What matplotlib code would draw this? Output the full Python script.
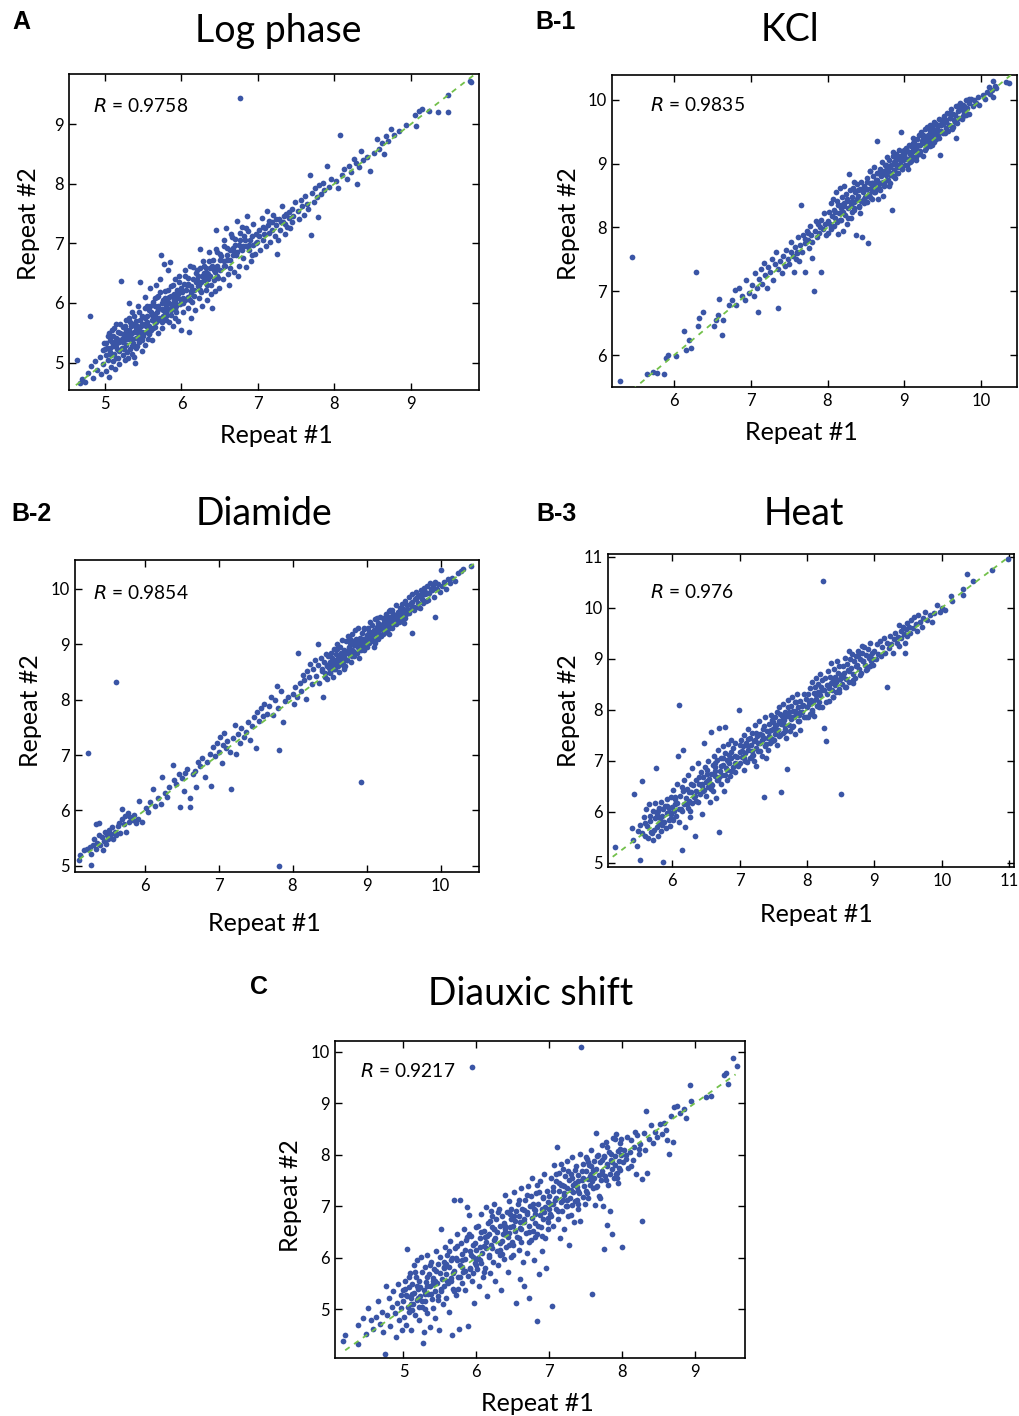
import numpy as np
import matplotlib.pyplot as plt

plt.rcParams['font.family'] = ['Lato', 'DejaVu Sans']

# ---------------- data ----------------
log_pts = [
    (4.63,5.04),(4.68,4.66),(4.70,4.72),(4.74,4.68),(4.78,4.83),(4.80,5.78),(4.82,4.95),(4.85,4.74),(4.87,5.02),(4.90,4.88),
    (4.93,5.10),(4.95,4.80),(4.97,5.21),(4.98,4.97),(4.99,5.32),
    (5.01,5.12),(5.02,4.86),(5.03,5.25),(5.04,5.05),(5.05,4.75),(5.06,5.38),(5.07,5.18),(5.08,4.93),(5.09,5.55),(5.10,5.02),
    (5.11,5.28),(5.12,5.15),(5.13,4.90),(5.14,5.42),(5.15,5.65),(5.16,5.22),(5.17,5.08),(5.18,5.35),(5.19,4.98),(5.20,5.50),
    (5.21,6.36),(5.22,5.25),(5.23,5.12),(5.24,5.60),(5.25,5.38),(5.26,5.05),(5.27,5.72),(5.28,5.30),(5.29,5.18),(5.30,5.48),
    (5.31,6.00),(5.32,5.40),(5.33,5.22),(5.34,5.62),(5.35,5.15),(5.36,5.85),(5.37,5.33),(5.38,5.52),(5.39,5.00),(5.40,5.70),
    (5.41,5.42),(5.42,5.28),(5.43,5.95),(5.44,5.55),(5.45,5.35),(5.46,6.35),(5.47,5.62),(5.48,5.20),(5.49,5.78),(5.50,5.45),
    (5.38,5.10),(5.27,5.45),(5.15,5.30),(5.33,5.68),(5.45,5.48),(5.06,5.24),(5.22,5.40),(5.41,5.58),(5.30,5.08),(5.48,5.38),
    (5.51,5.65),(5.52,5.30),(5.53,6.10),(5.54,5.52),(5.55,5.78),(5.56,5.40),(5.57,5.88),(5.58,5.62),(5.59,6.25),(5.60,5.55),
    (5.61,5.80),(5.62,5.38),(5.63,6.02),(5.64,5.70),(5.65,5.95),(5.66,5.60),(5.67,6.30),(5.68,5.85),(5.69,5.50),(5.70,6.12),
    (5.71,5.75),(5.72,6.40),(5.73,6.81),(5.74,5.90),(5.75,5.68),(5.76,6.05),(5.77,6.65),(5.78,5.82),(5.79,6.20),(5.80,5.72),
    (5.81,6.00),(5.82,6.55),(5.83,5.90),(5.84,6.10),(5.85,6.68),(5.86,5.80),(5.87,6.28),(5.88,5.95),(5.89,5.62),(5.90,6.15),
    (5.91,6.02),(5.92,6.40),(5.93,5.85),(5.94,6.22),(5.95,6.08),(5.96,5.70),(5.97,6.35),(5.98,5.98),(5.99,5.55),(5.55,5.95),
    (5.62,5.72),(5.68,6.10),(5.74,5.58),(5.80,5.95),(5.86,6.12),(5.92,5.75),(5.58,5.48),(5.66,5.78),(5.76,5.88),(5.84,5.68),
    (6.01,6.18),(6.02,5.85),(6.04,6.45),(6.05,6.05),(6.07,6.30),(6.08,5.92),(6.10,5.51),(6.11,6.62),(6.12,6.20),(6.14,6.02),
    (6.15,6.40),(6.17,6.12),(6.18,5.88),(6.20,6.55),(6.21,6.28),(6.23,6.08),(6.24,6.90),(6.26,6.35),(6.27,5.95),(6.29,6.50),
    (6.30,6.62),(6.32,6.22),(6.33,6.05),(6.35,6.48),(6.36,6.70),(6.38,6.30),(6.39,6.15),(6.40,5.91),(6.42,6.55),(6.43,6.38),
    (6.45,7.22),(6.46,6.62),(6.48,6.42),(6.49,6.25),(6.03,6.32),(6.13,5.75),(6.19,6.35),(6.25,6.18),(6.31,6.42),(6.37,6.58),
    (6.44,6.20),(6.47,6.85),(6.09,6.10),(6.22,6.45),(6.34,6.30),
    (6.51,6.55),(6.52,6.78),(6.54,6.40),(6.55,6.95),(6.57,6.62),(6.58,7.25),(6.60,6.72),(6.61,6.48),(6.63,6.88),(6.64,6.58),
    (6.66,7.10),(6.67,6.80),(6.69,6.52),(6.70,6.98),(6.72,7.38),(6.73,6.85),(6.75,6.62),(6.76,7.05),(6.78,6.90),(6.79,7.28),
    (6.81,6.75),(6.82,7.12),(6.84,6.95),(6.85,6.60),(6.87,7.20),(6.88,6.88),(6.90,7.05),(6.91,6.70),(6.93,7.32),(6.94,6.98),
    (6.96,6.82),(6.97,7.15),(6.99,7.02),(6.56,6.70),(6.68,6.92),(6.74,6.45),(6.80,6.95),(6.86,7.45),(6.92,6.80),(6.62,6.30),
    (7.01,7.12),(7.03,6.88),(7.05,7.42),(7.07,7.05),(7.09,7.25),(7.11,6.95),(7.12,7.55),(7.14,7.18),(7.16,7.02),(7.18,7.35),
    (7.20,7.48),(7.22,7.12),(7.24,7.30),(7.25,6.82),(7.27,7.40),(7.29,7.22),(7.31,7.62),(7.33,7.35),(7.35,7.15),(7.37,7.50),
    (7.38,7.28),(7.40,7.42),(7.42,7.25),(7.44,7.58),(7.46,7.45),(7.48,7.70),(7.06,7.28),(7.15,7.38),(7.26,7.05),(7.36,7.32),
    (7.52,7.55),(7.54,7.40),(7.56,7.72),(7.58,7.62),(7.60,7.48),(7.62,7.80),(7.64,7.66),(7.66,7.58),(7.68,8.15),(7.69,7.14),
    (7.71,7.85),(7.73,7.70),(7.75,7.92),(7.77,7.78),(7.78,7.44),(7.80,7.98),(7.82,7.82),(7.85,8.02),(7.87,7.90),(7.90,8.30),
    (7.93,7.95),(7.96,8.08),
    (8.02,8.05),(8.05,7.92),(8.07,8.82),(8.10,8.15),(8.13,8.25),(8.16,8.08),(8.19,8.30),(8.22,8.20),(8.25,8.42),(8.28,8.35),
    (8.29,7.99),(8.32,8.28),(8.35,8.55),(8.38,8.40),(8.42,8.45),(8.46,8.22),
    (8.52,8.52),(8.55,8.75),(8.58,8.58),(8.62,8.68),(8.65,8.50),(8.68,8.80),(8.70,8.72),(8.74,8.92),(8.78,8.82),(8.85,8.88),
    (8.94,8.98),(9.05,9.15),(9.06,8.96),(9.10,9.22),(9.14,9.25),(9.23,9.22),(9.36,9.20),(9.48,9.48),(9.49,9.20),(9.77,9.72),
    (9.79,9.70),(6.76,9.43),
    (5.02,5.32),(5.04,5.45),(5.08,5.12),(5.11,5.45),(5.13,5.35),(5.17,5.52),(5.19,5.20),(5.23,5.48),(5.26,5.62),(5.29,5.40),
    (5.32,5.55),(5.35,5.40),(5.37,5.65),(5.40,5.25),(5.43,5.50),(5.46,5.72),(5.49,5.52),(5.52,5.75),(5.54,5.62),(5.57,5.50),
    (5.60,5.85),(5.63,5.58),(5.65,5.82),(5.67,5.68),(5.70,5.90),(5.73,5.75),(5.75,6.00),(5.78,5.90),(5.81,5.80),(5.83,6.02),
    (5.87,5.88),(5.90,6.05),(5.93,5.95),(5.96,6.15),(5.99,6.05),(6.02,6.08),(6.06,6.22),(6.09,6.32),(6.13,6.28),(6.16,6.22),
    (6.20,6.38),(6.23,6.30),(6.27,6.45),(6.30,6.38),(6.33,6.50),(6.37,6.45),(6.40,6.62),(6.44,6.52),(6.47,6.58),(6.50,6.72),
    (6.55,6.62),(6.59,6.80),(6.63,6.72),(6.67,6.88),(6.71,6.80),(6.75,6.98),(6.79,6.88),(6.83,7.05),(6.88,6.98),(6.92,7.12),
    (6.97,7.00),(7.02,7.22),(7.08,7.15),(7.13,7.30),(7.19,7.22),(7.23,7.40),(7.30,7.35),(7.34,7.45),(7.41,7.52),(7.45,7.35),
    (5.00,5.22),(5.05,5.50),(5.09,5.35),(5.12,5.58),(5.16,5.40),(5.20,5.65),(5.24,5.35),(5.27,5.55),(5.31,5.75),(5.34,5.48),
    (5.38,5.78),(5.42,5.62),(5.45,5.85),(5.49,5.65),(5.52,5.92),(5.55,5.68),(5.59,5.95),(5.62,5.82),(5.66,6.08),(5.69,5.95),
    (5.72,6.18),(5.76,5.78),(5.79,6.08),(5.82,6.22),(5.86,5.98),(5.89,6.30),(5.93,6.12),(5.97,6.45),(6.00,6.25),(6.04,6.55),
    (6.08,6.42),(6.11,6.05),(6.15,6.60),(6.19,6.50),(6.24,6.58),(6.28,6.70),(6.32,6.58),(6.36,6.85),(6.41,6.72),(6.45,6.90),
    (6.50,6.82),(6.55,7.05),(6.60,6.92),(6.65,7.15),(6.70,7.08),(6.77,7.18),(6.84,7.25),(5.14,5.08),(5.25,5.22),(5.36,5.28),
    (5.47,5.42),(5.58,5.55),(5.69,5.72),(5.80,5.85),(5.91,5.90),(6.02,6.00),(6.13,6.15),(6.24,6.22),(6.35,6.40),(6.46,6.45),
]

kcl_pts = [
    (5.29,5.60),(5.45,7.53),(5.65,5.70),(5.72,5.74),(5.78,5.72),(5.87,5.70),(5.89,5.95),(5.92,6.00),(6.03,5.98),(6.13,6.37),
    (6.16,6.08),(6.20,6.24),(6.22,6.11),(6.29,7.31),(6.31,6.45),(6.32,6.58),(6.37,6.67),(6.52,6.45),(6.55,6.55),(6.57,6.63),
    (6.59,6.88),(6.63,6.32),(6.64,6.55),(6.72,6.78),(6.75,6.86),(6.79,7.02),(6.81,6.79),(6.85,7.05),(6.88,6.92),(6.92,6.86),
    (6.94,7.18),(6.98,6.97),
    (7.02,7.10),(7.04,6.92),(7.06,7.28),(7.08,7.05),(7.09,6.68),(7.11,7.20),(7.13,7.35),(7.15,7.12),(7.17,7.45),(7.19,7.25),
    (7.21,7.05),(7.23,7.38),(7.25,7.30),(7.27,7.50),(7.29,7.18),(7.31,7.42),(7.33,7.62),(7.35,7.35),(7.36,6.74),(7.38,7.48),
    (7.40,7.28),(7.42,7.55),(7.44,7.40),(7.46,7.65),(7.48,7.50),
    (7.50,7.42),(7.52,7.62),(7.53,7.78),(7.55,7.55),(7.56,7.30),(7.58,7.70),(7.60,7.60),(7.61,7.85),(7.63,7.48),(7.64,7.72),
    (7.66,8.35),(7.67,7.62),(7.68,7.88),(7.70,7.75),(7.71,7.30),(7.73,7.95),(7.74,7.80),(7.76,7.68),(7.77,8.02),(7.79,7.88),
    (7.80,7.52),(7.82,7.01),(7.83,7.95),(7.85,8.10),(7.86,7.85),(7.88,8.05),(7.89,7.92),(7.91,7.30),(7.92,8.12),(7.94,7.98),
    (7.95,8.22),(7.97,8.05),(7.98,7.88),(7.59,7.50),(7.75,7.92),
    (8.00,8.10),(8.01,7.92),(8.02,8.25),(8.03,8.05),(8.04,8.38),(8.05,7.98),(8.06,8.18),(8.07,8.45),(8.08,8.02),(8.09,8.28),
    (8.10,8.15),(8.11,8.55),(8.12,8.08),(8.13,8.35),(8.14,7.90),(8.15,8.22),(8.16,8.62),(8.17,8.30),(8.18,8.12),(8.19,8.48),
    (8.20,8.25),(8.21,8.65),(8.22,8.38),(8.23,8.20),(8.24,8.52),(8.25,8.05),(8.26,8.42),(8.27,8.30),(8.28,8.84),(8.29,8.58),
    (8.30,8.35),(8.31,8.15),(8.32,8.48),(8.33,8.62),(8.34,8.40),(8.35,8.28),(8.36,8.55),(8.37,7.88),(8.38,8.45),(8.39,8.68),
    (8.40,8.50),(8.41,8.32),(8.42,8.60),(8.43,8.42),(8.44,8.72),(8.45,7.85),(8.46,8.55),(8.47,8.38),(8.48,8.65),(8.49,8.48),
    (8.12,8.42),(8.27,8.15),(8.35,8.72),(8.42,8.22),(8.20,7.95),
    (8.50,8.60),(8.51,8.40),(8.52,8.78),(8.53,7.76),(8.54,8.52),(8.55,8.70),(8.56,8.88),(8.57,8.62),(8.58,8.45),(8.59,8.80),
    (8.60,8.68),(8.61,8.95),(8.62,8.55),(8.63,8.75),(8.64,8.62),(8.65,9.35),(8.66,8.85),(8.67,8.70),(8.68,8.92),(8.69,8.58),
    (8.70,8.80),(8.71,9.02),(8.72,8.72),(8.73,8.88),(8.74,8.65),(8.75,8.98),(8.76,8.82),(8.77,9.10),(8.78,8.75),(8.79,8.92),
    (8.80,9.05),(8.81,8.85),(8.82,8.70),(8.83,8.98),(8.84,8.27),(8.85,9.12),(8.86,8.90),(8.87,9.02),(8.88,8.78),(8.89,9.15),
    (8.90,8.95),(8.91,9.08),(8.92,8.85),(8.93,9.22),(8.94,9.00),(8.95,9.12),(8.96,9.50),(8.97,8.92),(8.98,9.18),(8.99,9.05),
    (8.58,8.70),(8.72,8.50),(8.80,8.65),(8.88,9.00),(8.66,8.45),
    (9.00,9.12),(9.01,8.98),(9.02,9.25),(9.03,9.08),(9.04,9.20),(9.05,8.92),(9.06,9.30),(9.07,9.15),(9.08,9.02),(9.09,9.28),
    (9.10,9.18),(9.11,9.40),(9.12,9.10),(9.13,9.32),(9.14,9.22),(9.15,9.05),(9.16,9.38),(9.17,9.28),(9.18,9.15),(9.19,9.45),
    (9.20,9.30),(9.21,9.20),(9.22,9.50),(9.23,9.35),(9.24,9.12),(9.25,9.42),(9.26,9.32),(9.27,9.55),(9.28,9.40),(9.29,9.25),
    (9.30,9.58),(9.31,9.45),(9.32,9.35),(9.33,9.52),(9.34,9.60),(9.35,9.42),(9.36,9.30),(9.37,9.55),(9.38,9.48),(9.39,9.65),
    (9.40,9.50),(9.41,9.38),(9.42,9.62),(9.43,9.55),(9.44,9.45),(9.45,9.70),(9.46,9.13),(9.47,9.60),(9.48,9.52),(9.49,9.68),
    (9.50,9.62),(9.52,9.75),(9.53,9.48),(9.55,9.68),(9.56,9.80),(9.58,9.60),(9.59,9.72),(9.61,9.85),(9.62,9.55),(9.64,9.78),
    (9.65,9.68),(9.67,9.90),(9.68,9.40),(9.70,9.82),(9.71,9.72),(9.73,9.95),(9.74,9.85),(9.76,9.75),(9.77,9.92),(9.79,9.82),
    (9.80,10.00),(9.82,9.88),(9.84,9.78),(9.85,9.95),(9.87,10.02),(9.89,9.90),(9.91,10.00),(9.94,9.95),(9.96,10.05),(9.98,9.92),
    (10.03,10.08),(10.05,10.02),(10.08,10.12),(10.10,10.20),(10.12,10.10),(10.14,10.15),(10.16,10.05),(10.18,10.22),
    (10.20,10.18),(10.16,10.30),(10.33,10.28),(10.37,10.26),
    (8.30,8.40),(8.34,8.30),(8.38,8.45),(8.41,8.33),(8.45,8.58),(8.48,8.44),(8.52,8.60),(8.55,8.48),(8.58,8.70),(8.61,8.56),
    (8.64,8.75),(8.67,8.62),(8.70,8.84),(8.73,8.68),(8.76,8.90),(8.79,8.74),(8.82,8.95),(8.85,8.80),(8.88,9.02),(8.91,8.86),
    (8.94,9.08),(8.97,8.92),(9.00,9.14),(9.03,8.98),(9.06,9.18),(9.09,9.04),(9.12,9.25),(9.15,9.10),(9.18,9.30),(9.21,9.15),
    (9.24,9.38),(9.27,9.22),(9.30,9.42),(9.33,9.28),(9.36,9.48),(9.39,9.34),(9.42,9.52),(9.45,9.40),(9.48,9.60),(9.51,9.48),
    (9.54,9.66),(9.57,9.52),(9.60,9.72),(9.63,9.58),(9.66,9.76),(9.69,9.64),(9.72,9.84),(9.75,9.70),(9.78,9.90),(9.81,9.76),
    (8.22,8.34),(8.16,8.12),(8.10,8.24),(8.04,8.00),(7.90,8.00),(7.80,7.78),(7.70,7.82),(7.60,7.62),
    (8.40,8.58),(8.46,8.42),(8.52,8.72),(8.58,8.58),(8.64,8.86),(8.70,8.70),(8.76,8.98),(8.82,8.82),(8.88,9.10),(8.94,8.95),
    (9.00,9.22),(9.06,9.08),(9.12,9.32),(9.18,9.20),(9.24,9.45),(9.30,9.32),(9.36,9.58),(9.42,9.45),(9.48,9.68),(9.54,9.56),
    (9.60,9.80),(9.66,9.66),(9.72,9.92),(9.78,9.80),(9.84,10.02),(8.25,8.45),(8.18,8.35),(8.32,8.25),(8.55,8.88),(8.85,9.18),
]

diamide_pts = [
    (5.12,5.10),(5.13,5.20),(5.18,5.28),(5.22,5.30),(5.24,7.04),(5.26,5.35),(5.27,5.01),(5.28,5.22),(5.30,5.38),(5.32,5.48),
    (5.34,5.30),(5.35,5.75),(5.36,5.42),(5.38,5.55),(5.39,5.78),(5.40,5.38),(5.42,5.52),(5.44,5.28),(5.45,5.45),(5.47,5.62),
    (5.48,5.40),(5.49,5.55),
    (5.50,5.48),(5.52,5.65),(5.53,5.52),(5.55,5.58),(5.56,5.70),(5.58,5.48),(5.60,5.62),(5.61,8.32),(5.62,5.55),(5.64,5.72),
    (5.65,5.78),(5.67,5.60),(5.69,5.85),(5.70,6.02),(5.72,5.75),(5.74,5.90),(5.75,5.62),(5.77,5.95),(5.79,5.80),(5.81,5.88),
    (5.84,5.82),(5.86,5.92),(5.88,5.78),(5.91,5.85),(5.93,6.18),(5.96,5.80),
    (6.02,6.05),(6.05,5.98),(6.08,6.15),(6.12,6.38),(6.14,6.08),(6.18,6.22),(6.22,6.12),(6.24,6.60),(6.27,6.32),(6.30,6.25),
    (6.33,6.42),(6.38,6.82),(6.40,6.55),(6.43,6.48),(6.46,6.65),(6.48,6.07),(6.50,6.58),(6.53,6.35),(6.55,6.68),(6.58,6.75),
    (6.61,6.22),(6.62,6.07),(6.65,6.65),(6.68,6.72),(6.70,6.42),(6.72,6.88),(6.75,6.80),(6.78,6.95),(6.82,6.60),(6.85,6.88),
    (6.88,7.02),(6.90,6.45),(6.92,7.15),(6.95,6.98),(6.98,7.22),
    (7.00,7.05),(7.02,7.32),(7.04,6.85),(7.06,7.18),(7.08,7.40),(7.10,7.12),(7.12,7.25),(7.15,7.05),(7.17,6.39),(7.20,7.30),
    (7.22,7.55),(7.24,7.02),(7.26,7.38),(7.29,7.22),(7.31,7.48),(7.34,7.32),(7.37,7.42),(7.40,7.60),(7.43,7.28),(7.45,7.52),
    (7.48,7.68),(7.50,7.12),(7.52,7.78),(7.55,7.62),(7.58,7.85),(7.60,7.70),(7.62,7.92),(7.65,7.75),(7.68,7.88),(7.71,8.05),
    (7.73,7.72),(7.76,8.00),(7.79,8.25),(7.80,7.85),(7.82,7.09),(7.82,4.99),(7.84,8.15),(7.87,7.60),(7.90,7.98),(7.94,8.05),
    (8.00,8.10),(8.02,7.92),(8.04,8.22),(8.06,8.05),(8.08,8.84),(8.10,8.30),(8.12,8.15),(8.14,8.45),(8.16,8.35),(8.18,8.02),
    (8.20,8.52),(8.22,8.40),(8.24,8.65),(8.26,8.28),(8.28,8.55),(8.30,8.72),(8.32,8.42),(8.34,8.62),(8.35,9.00),(8.36,8.30),
    (8.38,8.75),(8.40,8.55),(8.41,8.05),(8.42,8.68),(8.44,8.48),(8.45,8.82),(8.46,8.62),(8.47,8.38),(8.48,8.78),(8.49,8.58),
    (8.50,8.68),(8.51,8.50),(8.52,8.85),(8.53,8.62),(8.54,8.75),(8.55,8.40),(8.56,8.92),(8.57,8.70),(8.58,8.55),(8.59,8.82),
    (8.60,9.00),(8.61,8.65),(8.62,8.78),(8.63,8.50),(8.64,8.95),(8.65,8.72),(8.66,8.85),(8.67,9.08),(8.68,8.62),(8.69,8.90),
    (8.70,8.78),(8.71,8.60),(8.72,9.05),(8.73,8.88),(8.74,8.72),(8.75,9.15),(8.76,8.95),(8.77,8.80),(8.78,9.02),(8.79,8.68),
    (8.80,9.18),(8.81,8.90),(8.82,9.05),(8.83,8.78),(8.84,9.25),(8.85,8.98),(8.86,9.10),(8.87,8.85),(8.88,9.02),(8.89,9.30),
    (8.90,8.92),(8.91,9.12),(8.92,6.51),(8.93,8.98),(8.94,9.20),(8.95,9.05),(8.96,8.90),(8.97,9.28),(8.98,9.10),(8.99,9.00),
    (9.00,9.15),(9.01,8.95),(9.02,9.30),(9.03,9.08),(9.04,9.22),(9.05,9.40),(9.06,9.05),(9.07,9.18),(9.08,9.35),(9.09,9.12),
    (9.10,9.25),(9.11,9.02),(9.12,9.45),(9.13,9.20),(9.14,9.32),(9.15,9.10),(9.16,9.38),(9.17,9.25),(9.18,9.50),(9.19,9.15),
    (9.20,9.35),(9.21,9.28),(9.22,9.48),(9.23,9.20),(9.24,9.40),(9.25,9.32),(9.26,9.55),(9.27,9.25),(9.28,9.45),(9.29,9.38),
    (9.30,9.60),(9.31,9.30),(9.32,9.50),(9.33,9.42),(9.34,9.62),(9.35,9.35),(9.36,9.55),(9.38,9.45),(9.40,9.70),(9.42,9.52),
    (9.44,9.40),(9.45,9.65),(9.46,9.58),(9.48,9.72),(9.49,9.48),
    (9.50,9.62),(9.52,9.78),(9.54,9.55),(9.55,9.70),(9.57,9.85),(9.58,9.62),(9.60,9.75),(9.61,9.21),(9.62,9.90),(9.64,9.68),
    (9.66,9.82),(9.67,9.95),(9.69,9.75),(9.71,9.88),(9.72,9.65),(9.74,9.98),(9.75,9.82),(9.77,10.02),(9.79,9.90),(9.80,9.78),
    (9.82,10.05),(9.84,9.92),(9.86,10.10),(9.88,9.98),(9.90,10.05),(9.92,9.49),(9.93,10.12),(9.95,10.00),(9.97,10.08),(9.99,9.95),
    (10.00,10.34),(10.02,10.05),(10.05,10.12),(10.08,10.00),(10.10,10.18),(10.13,10.10),(10.16,10.20),(10.20,10.15),
    (10.24,10.28),(10.28,10.32),(10.30,10.35),(10.41,10.42),
    (8.40,8.52),(8.44,8.40),(8.47,8.60),(8.50,8.48),(8.53,8.68),(8.56,8.55),(8.59,8.72),(8.62,8.60),(8.65,8.80),(8.68,8.65),
    (8.71,8.86),(8.74,8.72),(8.77,8.92),(8.80,8.78),(8.83,8.98),(8.86,8.84),(8.89,9.04),(8.92,8.90),(8.95,9.10),(8.98,8.96),
    (9.01,9.16),(9.04,9.02),(9.07,9.22),(9.10,9.08),(9.13,9.28),(9.16,9.12),(9.19,9.34),(9.22,9.18),(9.25,9.40),(9.28,9.24),
    (9.31,9.46),(9.34,9.30),(9.37,9.52),(9.40,9.36),(9.43,9.58),(9.46,9.42),(9.49,9.64),(9.52,9.48),(9.55,9.70),(9.58,9.56),
    (9.61,9.76),(9.64,9.62),(9.67,9.82),(9.70,9.68),(9.73,9.88),(9.76,9.74),(9.79,9.94),(9.83,9.80),(9.87,10.00),(9.91,9.86),
    (8.55,8.62),(8.62,8.78),(8.68,8.70),(8.75,8.85),(8.82,8.88),(8.88,8.95),(8.95,9.02),(9.02,9.10),(9.08,9.15),(9.15,9.22),
    (9.22,9.30),(9.28,9.35),(9.35,9.45),(9.42,9.50),(9.48,9.55),(9.55,9.62),(9.62,9.68),(9.68,9.85),(9.75,9.88),(9.82,9.92),
    (8.60,8.92),(8.78,9.10),(8.96,9.30),(9.14,9.48),(9.32,9.62),(8.70,8.55),(8.90,8.75),(9.10,8.95),(9.30,9.18),(9.50,9.38),
]

heat_pts = [
    (5.15,5.31),(5.40,5.68),(5.42,5.45),(5.43,6.35),(5.48,5.33),(5.50,5.62),(5.52,5.06),(5.53,5.75),(5.55,5.58),(5.56,6.61),
    (5.58,5.90),(5.60,5.52),(5.62,6.05),(5.63,5.72),(5.65,5.48),(5.66,6.15),(5.68,5.82),(5.69,5.60),(5.71,6.02),(5.72,5.45),
    (5.74,5.88),(5.75,6.18),(5.76,6.86),(5.77,5.70),(5.78,5.95),(5.79,5.52),(5.80,6.08),(5.81,5.78),(5.83,6.20),(5.84,5.62),
    (5.85,5.92),(5.86,5.02),(5.87,6.05),(5.88,5.80),(5.90,6.12),(5.91,5.68),(5.92,5.98),(5.93,6.25),(5.95,5.85),(5.96,6.08),
    (5.97,5.72),(5.98,6.30),(5.99,5.95),(5.70,5.58),(5.82,5.88),
    (6.00,6.10),(6.01,5.85),(6.02,6.42),(6.03,6.02),(6.05,6.25),(6.06,5.92),(6.07,6.55),(6.08,6.18),(6.09,7.10),(6.10,8.10),
    (6.11,5.80),(6.12,6.32),(6.13,6.05),(6.14,5.26),(6.15,6.48),(6.16,7.21),(6.17,6.15),(6.18,6.62),(6.19,5.70),(6.20,6.28),
    (6.22,6.45),(6.23,6.08),(6.24,6.72),(6.25,6.22),(6.27,5.90),(6.28,6.38),(6.29,6.85),(6.30,6.18),(6.31,6.52),(6.33,6.30),
    (6.34,5.52),(6.35,6.62),(6.36,6.40),(6.38,6.95),(6.39,6.20),(6.40,6.55),(6.42,6.35),(6.43,6.78),(6.44,5.95),(6.45,6.50),
    (6.46,6.68),(6.47,7.34),(6.48,6.42),(6.49,6.88),(6.26,6.02),
    (6.50,6.58),(6.51,6.32),(6.52,6.82),(6.53,6.48),(6.54,7.00),(6.55,6.65),(6.56,6.20),(6.57,7.56),(6.58,6.75),(6.59,6.52),
    (6.60,6.92),(6.61,6.40),(6.62,7.10),(6.63,6.70),(6.64,6.88),(6.65,6.28),(6.66,7.02),(6.67,6.62),(6.68,7.22),(6.69,5.60),
    (6.70,7.65),(6.71,6.80),(6.72,6.55),(6.73,7.05),(6.74,6.72),(6.75,7.28),(6.76,6.92),(6.77,6.40),(6.78,7.15),(6.79,7.67),
    (6.80,6.85),(6.81,7.02),(6.82,6.62),(6.83,7.32),(6.84,6.95),(6.85,7.12),(6.86,6.70),(6.87,7.40),(6.88,7.05),(6.90,6.88),
    (6.91,7.25),(6.93,6.78),(6.94,7.35),(6.96,7.08),(6.98,6.92),
    (6.99,8.00),(7.00,7.18),(7.01,6.95),(7.02,7.40),(7.03,7.08),(7.05,7.28),(7.06,6.82),(7.07,7.50),(7.08,7.15),(7.10,7.35),
    (7.11,6.98),(7.12,7.62),(7.13,7.22),(7.15,7.45),(7.16,7.05),(7.17,7.30),(7.19,7.55),(7.20,7.12),(7.21,7.38),(7.23,7.70),
    (7.24,7.25),(7.25,6.90),(7.26,7.48),(7.28,7.35),(7.29,7.78),(7.30,7.20),(7.31,7.52),(7.33,7.40),(7.34,7.10),(7.35,7.62),
    (7.36,6.30),(7.37,7.45),(7.38,7.85),(7.39,7.32),(7.41,7.58),(7.42,7.22),(7.43,7.72),(7.44,7.48),(7.45,7.35),(7.46,7.90),
    (7.47,7.60),(7.48,7.42),(7.49,7.75),(7.22,7.00),(7.40,7.05),
    (7.50,7.62),(7.51,7.40),(7.52,7.85),(7.53,7.52),(7.54,7.70),(7.55,7.30),(7.56,7.95),(7.57,7.60),(7.58,7.78),(7.59,8.05),
    (7.60,7.50),(7.61,6.38),(7.62,7.72),(7.63,7.88),(7.64,7.55),(7.65,8.12),(7.66,7.80),(7.67,7.62),(7.68,7.95),(7.69,7.45),
    (7.70,6.84),(7.71,7.88),(7.72,8.20),(7.73,7.70),(7.74,7.95),(7.75,7.58),(7.76,8.08),(7.77,7.82),(7.78,8.25),(7.79,7.68),
    (7.80,7.98),(7.81,7.85),(7.82,8.15),(7.83,7.52),(7.84,7.92),(7.85,8.30),(7.86,7.78),(7.87,8.05),(7.88,7.90),(7.89,7.60),
    (7.90,8.18),(7.92,7.95),(7.94,8.10),(7.96,7.85),(7.98,8.22),
    (8.00,8.05),(8.01,7.85),(8.02,8.30),(8.03,8.12),(8.04,7.92),(8.05,8.42),(8.06,8.20),(8.07,8.00),(8.08,8.55),(8.09,8.15),
    (8.10,8.32),(8.11,7.88),(8.12,8.45),(8.13,8.22),(8.14,8.62),(8.15,8.08),(8.16,8.35),(8.17,8.50),(8.18,8.15),(8.19,8.70),
    (8.20,8.28),(8.21,8.45),(8.22,8.05),(8.23,8.58),(8.24,10.53),(8.25,8.38),(8.26,7.64),(8.27,8.62),(8.28,7.39),(8.29,8.48),
    (8.30,8.30),(8.31,8.75),(8.32,8.42),(8.33,8.18),(8.34,8.65),(8.35,8.52),(8.36,8.92),(8.37,8.38),(8.38,8.58),(8.39,8.25),
    (8.40,8.80),(8.41,8.48),(8.42,8.65),(8.43,8.35),(8.44,8.95),(8.45,8.58),(8.46,8.72),(8.47,8.40),(8.48,8.85),(8.49,8.60),
    (8.50,8.68),(8.50,6.35),(8.52,8.50),(8.53,8.85),(8.55,8.72),(8.56,9.02),(8.58,8.60),(8.59,8.90),(8.61,8.78),(8.62,8.55),
    (8.64,9.00),(8.65,8.82),(8.67,9.10),(8.68,8.70),(8.70,8.95),(8.71,8.62),(8.73,9.05),(8.74,8.88),(8.76,9.15),(8.77,8.80),
    (8.79,9.00),(8.80,8.72),(8.82,9.12),(8.83,8.95),(8.85,9.22),(8.86,8.88),(8.88,9.08),(8.89,8.80),(8.91,9.18),(8.92,9.02),
    (8.94,9.30),(8.95,8.95),(8.97,9.12),(8.98,9.00),(8.57,8.45),(8.69,8.52),(8.81,9.25),(8.93,8.85),(8.63,9.15),(8.75,9.08),
    (9.00,9.15),(9.02,9.00),(9.04,9.28),(9.06,9.10),(9.08,9.35),(9.10,9.05),(9.12,9.22),(9.14,9.40),(9.16,9.12),(9.18,8.45),
    (9.19,9.30),(9.21,9.20),(9.23,9.45),(9.25,9.28),(9.27,9.12),(9.29,9.38),(9.31,9.50),(9.33,9.30),(9.35,9.42),(9.37,9.25),
    (9.39,9.55),(9.40,9.40),(9.42,9.62),(9.44,9.48),(9.45,9.30),(9.47,9.58),(9.48,9.70),(9.49,9.45),(9.46,9.12),(9.36,9.65),
    (9.51,9.62),(9.53,9.50),(9.55,9.75),(9.57,9.60),(9.59,9.82),(9.61,9.68),(9.63,9.55),(9.65,9.85),(9.67,9.72),(9.70,9.62),
    (9.72,9.80),(9.75,9.92),(9.78,9.75),(9.82,9.85),(9.86,9.72),(9.88,9.90),(9.93,10.05),(9.97,9.92),(10.00,10.00),
    (10.04,9.95),(10.14,10.23),(10.15,10.12),(10.31,10.36),(10.31,10.24),(10.38,10.66),(10.46,10.52),(10.75,10.74),
    (10.98,10.96),
    (6.52,6.60),(6.58,6.45),(6.63,6.80),(6.68,6.62),(6.73,6.90),(6.78,6.72),(6.83,7.00),(6.88,6.80),(6.93,7.10),(6.98,6.90),
    (7.03,7.20),(7.08,7.00),(7.13,7.28),(7.18,7.10),(7.23,7.40),(7.28,7.20),(7.33,7.50),(7.38,7.28),(7.43,7.58),(7.48,7.38),
    (7.53,7.68),(7.58,7.48),(7.63,7.78),(7.68,7.58),(7.73,7.88),(7.78,7.66),(7.83,7.98),(7.88,7.78),(7.93,8.08),(7.98,7.86),
    (8.03,8.18),(8.08,7.96),(8.13,8.28),(8.18,8.06),(8.23,8.38),(8.28,8.15),(8.33,8.48),(8.38,8.25),(8.43,8.55),(8.48,8.35),
    (8.53,8.65),(8.58,8.45),(8.63,8.75),(8.68,8.58),(8.73,8.85),(8.78,8.68),(8.83,8.95),(8.88,8.78),(8.93,9.05),(8.98,8.88),
    (6.05,6.15),(6.15,6.02),(6.25,6.38),(6.35,6.22),(6.45,6.55),(5.85,5.75),(5.95,6.00),
    (5.60,5.78),(5.67,5.92),(5.73,5.65),(5.79,6.02),(5.86,5.80),(5.92,6.12),(5.98,5.88),(6.04,6.30),(6.10,6.05),(6.16,6.40),
    (6.22,6.15),(6.28,6.55),(6.34,6.32),(6.40,6.68),(6.46,6.40),(6.52,6.75),(6.58,6.55),(6.64,6.95),(6.70,6.68),(6.76,7.05),
    (6.82,6.82),(6.88,7.18),(6.94,6.95),(7.00,7.30),(7.06,7.05),(7.12,7.42),(7.18,7.20),(7.24,7.55),(7.30,7.35),(7.36,7.68),
    (7.42,7.45),(7.48,7.80),(7.54,7.58),(7.60,7.92),(7.66,7.70),(7.72,8.05),(7.78,7.85),(7.84,8.15),(7.90,7.95),(7.96,8.30),
]

diauxic_pts = [
    (4.17,4.39),(4.20,4.49),(4.38,4.33),(4.38,4.70),(4.45,4.82),(4.48,4.52),(4.52,5.02),(4.55,4.78),(4.58,4.62),(4.62,4.85),
    (4.65,5.15),(4.68,4.72),(4.70,4.95),(4.72,4.55),(4.75,4.13),(4.76,5.45),(4.78,4.88),(4.80,5.22),(4.82,4.68),(4.84,5.05),
    (4.86,5.35),(4.88,4.92),(4.90,4.45),(4.91,5.12),(4.93,5.48),(4.94,4.78),(4.96,5.28),(4.97,5.02),(4.98,4.60),(4.99,5.38),
    (5.00,5.15),(5.01,4.85),(5.02,5.55),(5.03,5.28),(5.04,4.70),(5.05,6.17),(5.06,5.05),(5.07,5.42),(5.08,4.95),(5.09,5.70),
    (5.10,5.22),(5.11,4.60),(5.12,5.48),(5.13,5.10),(5.14,5.85),(5.15,5.32),(5.16,4.88),(5.17,5.62),(5.18,5.18),(5.19,5.95),
    (5.20,5.40),(5.21,4.78),(5.22,5.55),(5.23,5.25),(5.24,6.02),(5.25,5.05),(5.26,5.72),(5.27,4.35),(5.28,5.38),(5.29,5.82),
    (5.30,5.15),(5.31,5.52),(5.32,4.92),(5.33,6.05),(5.34,5.30),(5.35,5.68),(5.36,4.65),(5.37,5.45),(5.38,5.92),(5.39,5.20),
    (5.40,5.60),(5.41,5.02),(5.42,5.78),(5.43,5.35),(5.44,4.82),(5.45,6.12),(5.46,5.50),(5.47,5.25),(5.48,5.88),(5.49,4.60),
    (5.12,5.30),(5.22,5.05),(5.33,5.45),(5.41,5.55),(5.28,4.55),
    (5.50,5.70),(5.51,5.35),(5.52,6.55),(5.53,5.58),(5.54,5.10),(5.55,5.92),(5.56,5.45),(5.57,6.20),(5.58,5.68),(5.59,5.22),
    (5.60,6.05),(5.61,5.50),(5.62,4.95),(5.63,5.82),(5.64,6.32),(5.65,5.60),(5.66,4.50),(5.67,6.00),(5.68,5.40),(5.69,7.13),
    (5.70,5.75),(5.71,6.18),(5.72,5.28),(5.73,5.95),(5.74,6.45),(5.75,5.62),(5.76,4.62),(5.77,7.13),(5.78,5.85),(5.79,6.28),
    (5.80,5.50),(5.81,6.08),(5.82,5.72),(5.83,6.55),(5.84,5.38),(5.85,5.98),(5.86,6.35),(5.87,6.99),(5.88,5.65),(5.89,4.68),
    (5.90,6.82),(5.91,6.12),(5.92,5.80),(5.93,6.42),(5.94,5.55),(5.95,6.02),(5.96,6.25),(5.97,5.12),(5.98,5.90),(5.99,6.60),
    (5.55,5.80),(5.65,5.95),(5.75,5.40),(5.85,5.75),(5.95,5.70),
    (6.00,6.15),(6.01,5.78),(6.02,6.62),(6.03,6.00),(6.04,5.45),(6.05,6.38),(6.06,5.90),(6.07,6.85),(6.08,6.10),(6.09,5.62),
    (6.10,6.52),(6.11,6.22),(6.12,5.80),(6.13,6.98),(6.14,6.30),(6.15,5.25),(6.16,6.68),(6.17,6.05),(6.18,6.45),(6.19,5.70),
    (6.20,6.90),(6.21,6.18),(6.22,6.60),(6.23,5.92),(6.24,7.05),(6.25,6.35),(6.26,5.55),(6.27,6.75),(6.28,6.12),(6.29,6.50),
    (6.30,5.85),(6.31,6.95),(6.32,6.28),(6.33,6.62),(6.34,5.38),(6.35,6.80),(6.36,6.08),(6.37,6.45),(6.38,5.98),(6.39,7.22),
    (6.40,6.55),(6.41,6.20),(6.42,6.88),(6.43,5.72),(6.44,6.40),(6.45,7.10),(6.46,6.60),(6.47,6.02),(6.48,6.75),(6.49,6.30),
    (6.05,6.20),(6.15,6.42),(6.25,6.55),(6.35,6.32),(6.45,6.48),
    (6.50,6.62),(6.51,6.25),(6.52,7.28),(6.53,6.72),(6.54,5.12),(6.55,6.90),(6.56,6.40),(6.57,7.05),(6.58,6.15),(6.59,6.80),
    (6.60,5.58),(6.61,7.35),(6.62,6.55),(6.63,6.95),(6.64,5.92),(6.65,6.70),(6.66,5.45),(6.67,7.12),(6.68,6.48),(6.69,6.85),
    (6.70,6.10),(6.71,7.40),(6.72,6.62),(6.73,5.22),(6.74,7.00),(6.75,6.35),(6.76,6.78),(6.77,7.55),(6.78,6.52),(6.79,5.95),
    (6.80,6.92),(6.81,6.68),(6.82,7.25),(6.83,4.77),(6.84,6.45),(6.85,7.05),(6.86,5.68),(6.87,6.82),(6.88,7.48),(6.89,6.60),
    (6.90,6.12),(6.91,7.15),(6.92,6.75),(6.93,7.62),(6.94,6.38),(6.95,6.98),(6.96,5.80),(6.97,7.30),(6.98,6.70),(6.99,7.08),
    (6.60,6.70),(6.70,6.88),(6.80,6.40),(6.90,6.95),(6.75,7.20),
    (7.00,7.20),(7.01,6.85),(7.02,7.55),(7.03,7.05),(7.04,5.06),(7.05,7.38),(7.06,6.62),(7.07,7.80),(7.08,7.12),(7.09,6.95),
    (7.10,7.48),(7.11,8.15),(7.12,6.75),(7.13,7.30),(7.14,7.65),(7.15,6.38),(7.16,7.08),(7.17,7.42),(7.18,6.90),(7.19,7.72),
    (7.20,7.22),(7.21,6.55),(7.22,7.58),(7.23,7.00),(7.24,7.35),(7.25,7.88),(7.26,6.80),(7.27,7.50),(7.28,6.25),(7.29,7.15),
    (7.30,7.62),(7.31,7.02),(7.32,7.95),(7.33,7.28),(7.34,6.70),(7.35,7.45),(7.36,7.10),(7.37,7.78),(7.38,7.38),(7.39,6.95),
    (7.40,7.60),(7.41,7.25),(7.42,8.02),(7.43,6.72),(7.44,10.10),(7.45,7.50),(7.46,7.18),(7.47,7.82),(7.48,7.40),(7.49,7.05),
    (7.10,7.15),(7.20,7.40),(7.30,7.32),(7.40,7.48),(7.25,7.12),
    (7.50,7.68),(7.51,7.30),(7.52,7.92),(7.53,7.52),(7.54,7.15),(7.55,7.80),(7.56,7.42),(7.57,8.10),(7.58,7.62),(7.59,5.30),
    (7.60,7.35),(7.61,7.88),(7.62,7.55),(7.63,7.02),(7.64,8.43),(7.65,7.72),(7.66,7.40),(7.67,8.00),(7.68,7.60),(7.69,7.20),
    (7.70,7.85),(7.71,7.50),(7.72,8.18),(7.73,7.68),(7.74,7.00),(7.75,7.95),(7.76,6.17),(7.77,7.58),(7.78,8.25),(7.79,6.63),
    (7.80,7.78),(7.81,7.42),(7.82,8.05),(7.83,7.62),(7.84,6.90),(7.85,7.90),(7.86,6.45),(7.87,7.72),(7.88,8.32),(7.89,7.55),
    (7.90,7.98),(7.91,7.80),(7.92,8.40),(7.93,7.65),(7.94,8.08),(7.95,7.45),(7.96,7.88),(7.97,8.22),(7.98,7.70),(7.99,8.00),
    (8.00,6.21),(8.01,7.85),(8.03,8.10),(8.05,7.92),(8.07,8.35),(8.09,7.75),(8.11,8.05),(8.13,8.28),(8.15,7.90),(8.17,8.15),
    (8.19,7.62),(8.21,8.38),(8.23,8.02),(8.25,8.20),(8.27,6.72),(8.28,7.52),(8.30,8.42),(8.31,8.10),(8.33,8.85),(8.35,7.65),
    (8.37,8.30),(8.40,8.58),(8.42,8.22),(8.45,8.45),(8.48,8.35),
    (8.52,8.60),(8.55,8.40),(8.58,8.62),(8.60,8.48),(8.62,8.28),(8.65,8.02),(8.68,8.75),(8.70,8.25),(8.72,8.92),(8.75,8.95),
    (8.80,8.82),(8.85,8.88),(8.88,8.72),(8.93,9.36),(8.95,9.05),(9.15,9.12),(9.22,9.15),(9.40,9.55),(9.43,9.58),(9.46,9.38),
    (9.52,9.87),(9.58,9.73),(5.94,9.71),
    (5.05,5.25),(5.12,4.98),(5.18,5.45),(5.25,5.15),(5.32,5.62),(5.38,5.30),(5.45,5.75),(5.52,5.40),(5.58,5.88),(5.65,5.55),
    (5.72,6.00),(5.78,5.62),(5.85,6.15),(5.92,5.78),(5.98,6.28),(6.05,5.95),(6.12,6.40),(6.18,6.02),(6.25,6.55),(6.32,6.15),
    (6.38,6.68),(6.45,6.25),(6.52,6.80),(6.58,6.38),(6.65,6.92),(6.72,6.50),(6.78,7.05),(6.85,6.62),(6.92,7.18),(6.98,6.78),
    (7.05,7.30),(7.12,6.90),(7.18,7.42),(7.25,7.00),(7.32,7.55),(7.38,7.12),(7.45,7.68),(7.52,7.25),(7.58,7.78),(7.65,7.38),
    (7.72,7.90),(7.78,7.50),(7.85,8.02),(7.92,7.62),(7.98,8.12),(5.08,5.62),(5.30,5.00),(5.50,6.02),(5.70,5.35),(5.90,6.45),
    (6.10,5.72),(6.30,6.88),(6.50,6.05),(6.70,7.22),(6.90,6.42),(7.10,7.62),(7.30,6.82),(7.50,7.95),(7.70,7.15),(7.90,8.30),
    (6.20,6.25),(6.40,6.50),(6.60,6.58),(6.80,6.85),(7.00,6.95),(7.20,7.25),(7.40,7.30),(7.60,7.70),(7.80,7.82),(6.00,5.98),
    (5.80,5.82),(5.60,5.55),(5.40,5.48),(5.20,5.22),
    (5.02,5.40),(5.10,5.10),(5.16,5.72),(5.23,5.42),(5.30,5.30),(5.36,5.85),(5.43,5.55),(5.48,5.18),(5.56,5.82),(5.63,6.12),
    (5.68,5.70),(5.74,6.22),(5.80,5.95),(5.87,6.40),(5.93,6.05),(5.99,5.85),(6.06,6.50),(6.13,6.18),(6.19,6.72),(6.26,6.38),
    (6.33,6.05),(6.39,6.62),(6.46,6.85),(6.53,6.52),(6.59,7.12),(6.66,6.75),(6.73,6.30),(6.79,6.95),(6.86,7.28),(6.93,6.88),
    (6.99,6.55),(7.06,7.05),(7.13,7.45),(7.19,7.12),(7.26,7.68),(7.33,7.42),(7.39,7.05),(7.46,7.55),(7.53,7.85),(7.59,7.48),
    (7.66,7.98),(7.73,7.62),(7.79,8.15),(7.86,7.85),(7.93,7.55),(7.99,8.30),(8.06,8.00),(8.12,7.78),(8.18,8.45),(8.24,8.12),
    (6.22,6.80),(6.48,6.95),(6.62,6.30),(6.84,7.42),(7.02,6.80),(7.16,7.82),(7.36,7.70),(7.56,7.58),(7.76,7.98),(7.96,7.75),
]

titles = ['Log phase', 'KCl', 'Diamide', 'Heat', 'Diauxic shift']
panel_tags = ['A', 'B-1', 'B-2', 'B-3', 'C']
r_values = ['0.9758', '0.9835', '0.9854', '0.976', '0.9217']
datasets = [log_pts, kcl_pts, diamide_pts, heat_pts, diauxic_pts]
x_limits = [(4.53, 9.89), (5.19, 10.47), (5.06, 10.52), (5.05, 11.07), (4.06, 9.69)]
y_limits = [(4.54, 9.84), (5.50, 10.39), (4.89, 10.52), (4.92, 11.05), (4.05, 10.21)]
x_ticks = [[5, 6, 7, 8, 9], [6, 7, 8, 9, 10], [6, 7, 8, 9, 10], [6, 7, 8, 9, 10, 11], [5, 6, 7, 8, 9]]
y_ticks = [[5, 6, 7, 8, 9], [6, 7, 8, 9, 10], [5, 6, 7, 8, 9, 10], [5, 6, 7, 8, 9, 10, 11], [5, 6, 7, 8, 9, 10]]
diag_range = [(4.62, 9.82), (5.45, 10.42), (5.12, 10.45), (5.12, 11.0), (4.20, 9.56)]

# ---------------- layout (pixels of the 1019 x 1416 canvas) ----------------
W, H = 1019, 1416
# axes box: left, top, right, bottom
boxes = [(69, 74, 479, 390), (612, 75, 1017, 387), (75, 560, 479, 872),
         (608, 554, 1014, 867), (335, 1041, 745, 1358)]
title_xy = [(278, 42), (790, 41), (264, 525), (804, 525), (531, 1005)]
tag_xy = [(12, 29), (535, 29), (11, 521), (536, 521), (250, 994)]
xlab_xy = [(276, 443), (801, 440), (264, 931), (816, 922), (537, 1411)]
ylab_xy = [(29, 224), (568, 224), (30, 711), (568, 711), (291, 1196)]
r_xy = [(0.058, 0.90), (0.093, 0.905), (0.045, 0.895), (0.104, 0.877), (0.061, 0.905)]

dot_color = '#3a55a6'
line_color = '#72c04a'

fig = plt.figure(figsize=(W / 100, H / 100), dpi=100)


def fx(px):
    return px / W


def fy(py):
    return 1 - py / H


for i in range(5):
    l, t, r, b = boxes[i]
    ax = fig.add_axes([fx(l), fy(b), (r - l) / W, (b - t) / H])
    pts = np.array(datasets[i])
    ax.scatter(pts[:, 0], pts[:, 1], s=17, color=dot_color, linewidths=0, zorder=2)
    d0, d1 = diag_range[i]
    ax.plot([d0, d1], [d0, d1], '--', color=line_color, linewidth=1.3,
            dashes=(3, 3), zorder=3)
    ax.set_xlim(*x_limits[i])
    ax.set_ylim(*y_limits[i])
    ax.set_xticks(x_ticks[i])
    ax.set_yticks(y_ticks[i])
    ax.tick_params(direction='in', top=True, right=True, length=5, width=1,
                   labelsize=12, pad=4)
    for sp in ax.spines.values():
        sp.set_linewidth(1.2)
    ax.text(r_xy[i][0], r_xy[i][1], '$\\it{R}$ = ' + r_values[i], transform=ax.transAxes,
            fontsize=13.8, va='center', ha='left')

    fig.text(fx(title_xy[i][0]), fy(title_xy[i][1]), titles[i], fontsize=27,
             ha='center', va='baseline')
    fig.text(fx(tag_xy[i][0]), fy(tag_xy[i][1]), panel_tags[i], fontsize=18,
             fontweight='bold', family='Liberation Sans', ha='left', va='baseline')
    fig.text(fx(xlab_xy[i][0]), fy(xlab_xy[i][1]), 'Repeat #1', fontsize=18,
             ha='center', va='baseline')
    fig.text(fx(ylab_xy[i][0]), fy(ylab_xy[i][1]), 'Repeat #2', fontsize=18,
             rotation=90, ha='center', va='center')

fig.savefig('out.png', dpi=100)
